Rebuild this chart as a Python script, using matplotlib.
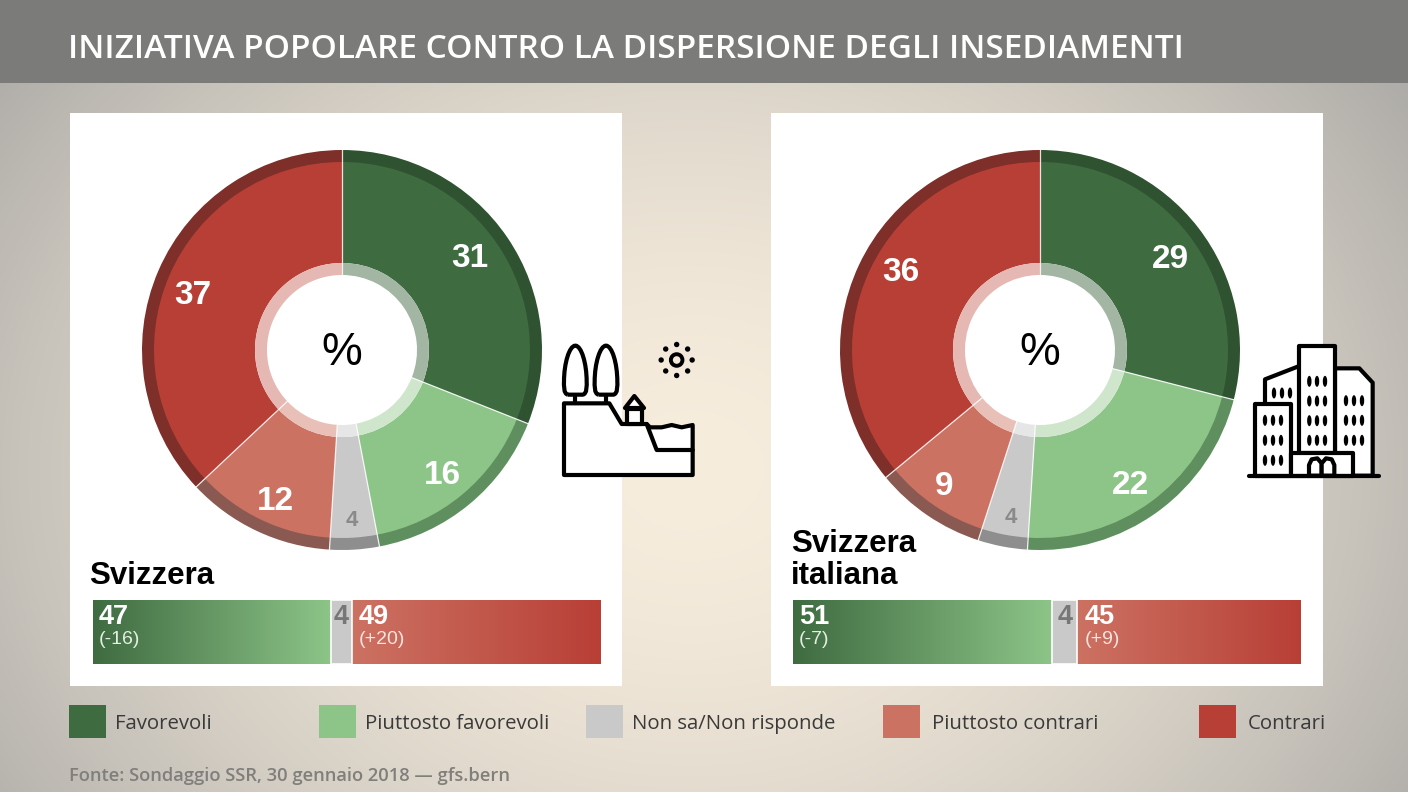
import numpy as np
import matplotlib
matplotlib.use("Agg")
import matplotlib.pyplot as plt
from matplotlib.colors import LinearSegmentedColormap, to_rgb
from matplotlib.patches import Rectangle, PathPatch, Circle, Ellipse
from matplotlib.path import Path

W, H = 1408, 792
TITLE = "INIZIATIVA POPOLARE CONTRO LA DISPERSIONE DEGLI INSEDIAMENTI"
SOURCE = "Fonte: Sondaggio SSR, 30 gennaio 2018 — gfs.bern"
CATEGORIES = ["Favorevoli", "Piuttosto favorevoli", "Non sa/Non risponde", "Piuttosto contrari", "Contrari"]
SVIZZERA = [31, 16, 4, 12, 37]
TICINO = [29, 22, 4, 9, 36]
SVIZZERA_BAR = [47, 4, 49]
TICINO_BAR = [51, 5, 44]
SVIZZERA_BAR_LABELS = ["47", "4", "49"]
TICINO_BAR_LABELS = ["51", "4", "45"]
SVIZZERA_DELTA = ["(-16)", "(+20)"]
TICINO_DELTA = ["(-7)", "(+9)"]

MAIN = ["#3f6b41", "#8dc588", "#c9c9c9", "#cc7263", "#b83f36"]
RIM = ["#2f5230", "#5f8f5f", "#8e8e8e", "#8a5a52", "#7e2f2a"]
INNER = ["#a3b5a3", "#cfe6cc", "#e6e6e6", "#e9c0b8", "#e6b8b3"]
SANS = "Liberation Sans"
UI = "Open Sans"

# label nudges in pixels (right, down) relative to the wedge's middle
NUDGE_L = [(-5, -2), (-2, 2), (-1, 3), (2, 7), (-2, 9)]
NUDGE_R = [(4, 8), (-4, 6), (2, 2), (-6, 4), (6, -9)]

fig = plt.figure(figsize=(W / 100, H / 100), dpi=100)
bg = fig.add_axes([0, 0, 1, 1], zorder=0)
bg.set_xlim(0, W); bg.set_ylim(H, 0); bg.axis("off")

# background radial gradient
yy, xx = np.mgrid[0:H, 0:W]
d = np.sqrt(((xx - 690) / 860) ** 2 + ((yy - 470) / 700) ** 2)
t = np.clip(d, 0, 1) ** 1.7
c0, c1 = np.array(to_rgb("#f7eddd")), np.array(to_rgb("#aeaca8"))
img = c0 + (c1 - c0) * t[..., None]
bg.imshow(img, extent=(0, W, H, 0), aspect="auto", zorder=0, interpolation="bilinear")
bg.set_xlim(0, W); bg.set_ylim(H, 0)

# header
bg.add_patch(Rectangle((0, 0), W, 83, color="#7b7b79", lw=0, zorder=1))
bg.text(68, 58, TITLE, color="white", fontsize=24.05, fontfamily="Open Sans", fontweight="semibold",
        va="baseline", ha="left", zorder=5)

# panels
for x0 in (70, 771):
    bg.add_patch(Rectangle((x0, 113), 552, 573, color="white", lw=0, zorder=1))


def px_axes(x0, y0, x1, y1, z=3):
    return fig.add_axes([x0 / W, 1 - y1 / H, (x1 - x0) / W, (y1 - y0) / H], zorder=z)


def donut(cx, cy, values, nudge):
    R = 200
    ax = px_axes(cx - R - 2, cy - R - 2, cx + R + 2, cy + R + 2)
    kw = dict(startangle=90, counterclock=False, normalize=True)
    ax.pie(values, radius=R, colors=RIM, wedgeprops=dict(width=13, lw=0), **kw)
    ax.pie(values, radius=188, colors=MAIN, wedgeprops=dict(width=101, lw=0), **kw)
    ax.pie(values, radius=87, colors=INNER, wedgeprops=dict(width=12, lw=0), **kw)
    ax.set_xlim(-R - 2, R + 2); ax.set_ylim(-R - 2, R + 2)
    ax.set_aspect("equal"); ax.axis("off")
    cum = np.cumsum(values)
    for c in cum:
        a = np.deg2rad(c * 3.6)
        ax.plot([75 * np.sin(a), R * np.sin(a)], [75 * np.cos(a), R * np.cos(a)], color="white", lw=0.9, alpha=0.85)
    for i, v in enumerate(values):
        a = np.deg2rad((cum[i] - v / 2) * 3.6)
        r = 168 if i == 2 else 160
        gray = i == 2
        ax.text(r * np.sin(a) + nudge[i][0], r * np.cos(a) - nudge[i][1], str(v), ha="center", va="center",
                family=SANS, fontweight="bold", fontsize=16 if gray else 24,
                color="#8a8a8a" if gray else "white")
    ax.text(0, -3, "%", ha="center", va="center", family=SANS, fontsize=33, color="black")


donut(342, 350, SVIZZERA, NUDGE_L)
donut(1040, 350, TICINO, NUDGE_R)


def stacked(x0, x1, y0, y1, values, labels, deltas):
    ax = px_axes(x0, y0, x1, y1)
    grad = np.linspace(0, 1, 256)[None, :]
    gcm = LinearSegmentedColormap.from_list("g", [MAIN[0], MAIN[1]])
    rcm = LinearSegmentedColormap.from_list("r", [MAIN[3], MAIN[4]])
    a, b, c = values
    ax.imshow(grad, cmap=gcm, extent=(0, a, 0, 1), aspect="auto")
    ax.barh(0.5, b, left=a, height=1, color=MAIN[2], edgecolor="white", lw=1.2)
    ax.imshow(grad, cmap=rcm, extent=(a + b, a + b + c, 0, 1), aspect="auto")
    ax.set_xlim(0, sum(values)); ax.set_ylim(0, 1); ax.axis("off")
    pad = 1.2
    ax.text(pad, 0.73, labels[0], color="white", fontsize=19.5, fontweight="bold", family=SANS, va="center")
    ax.text(pad, 0.39, deltas[0], color="#e4efe2", fontsize=14, family=SANS, va="center")
    ax.text(a + b / 2, 0.73, labels[1], color="#777777", fontsize=19.5, fontweight="bold", family=SANS,
            va="center", ha="center")
    ax.text(a + b + pad * 1.2, 0.73, labels[2], color="white", fontsize=19.5, fontweight="bold", family=SANS, va="center")
    ax.text(a + b + pad * 1.2, 0.39, deltas[1], color="#f6e3df", fontsize=14, family=SANS, va="center")


stacked(93, 600, 600, 664, SVIZZERA_BAR, SVIZZERA_BAR_LABELS, SVIZZERA_DELTA)
stacked(793, 1301, 600, 664, TICINO_BAR, TICINO_BAR_LABELS, TICINO_DELTA)

for x, y, s in [(89.5, 584, "Svizzera"), (791, 552, "Svizzera"), (791, 584, "italiana")]:
    bg.text(x, y, s, fontsize=22.5, fontweight="bold", family=SANS, va="baseline", color="black", zorder=5)

# legend
for x, tx, name, col in zip([69, 319, 586, 883, 1199], [115, 365, 632, 932, 1248], CATEGORIES, MAIN):
    bg.add_patch(Rectangle((x, 705), 37, 33, color=col, lw=0, zorder=2))
    bg.text(tx, 729, name, fontsize=14.7, family=UI, va="baseline", color="#3a3a3a", zorder=5)
bg.text(69, 781, SOURCE, fontsize=13.2, family=UI, fontweight="semibold", va="baseline", color="#807f7b", zorder=5)

# icons: drawn on an overlay in pixel coordinates
ov = fig.add_axes([0, 0, 1, 1], zorder=6)
ov.set_xlim(0, W); ov.set_ylim(H, 0); ov.axis("off"); ov.patch.set_alpha(0)
LW = 3.0


def poly(ox, oy, pts, fc="white", lw=LW, closed=True, z=7):
    P = [(ox + x / 3, oy + y / 3) for x, y in pts]
    if closed:
        ov.fill(*zip(*P), facecolor=fc, edgecolor="black", lw=lw, joinstyle="round", zorder=z)
    else:
        ov.plot(*zip(*P), color="black", lw=lw, solid_capstyle="round", solid_joinstyle="round", zorder=z)


# landscape
L = (540, 320)
ox, oy = L
poly(*L, [(72, 250), (208, 250), (245, 312), (320, 312), (330, 322), (365, 322), (395, 315), (425, 322), (458, 315),
          (458, 465), (72, 465)])
poly(*L, [(320, 312), (350, 390), (458, 390)], closed=False)
for cx in (106, 198):
    poly(*L, [(cx, 222), (cx, 250)], closed=False)
    ctrl = [(cx - 22, 224), (cx - 36, 222), (cx - 34, 195), (cx - 34, 185), (cx - 34, 130), (cx - 18, 77), (cx, 77),
            (cx + 18, 77), (cx + 34, 130), (cx + 34, 185), (cx + 34, 195), (cx + 36, 222), (cx + 22, 224),
            (cx - 22, 224)]
    codes = [Path.MOVETO] + [Path.CURVE4] * 12 + [Path.LINETO]
    verts = [(ox + x / 3, oy + y / 3) for x, y in ctrl]
    ov.add_patch(PathPatch(Path(verts, codes), fc="white", ec="black", lw=LW, zorder=7, joinstyle="round"))
poly(*L, [(262, 312), (262, 268), (305, 268), (305, 312)], z=8)
poly(*L, [(255, 264), (283, 228), (312, 264)], z=8)
# sun
ov.add_patch(Circle((ox + 410 / 3, oy + 120 / 3), 5.8, fc="none", ec="black", lw=2.8, zorder=8))
for k in range(8):
    a = k * np.pi / 4
    ov.add_patch(Circle((ox + 410 / 3 + 15.5 * np.cos(a), oy + 120 / 3 + 15.5 * np.sin(a)), 2.7, color="black", lw=0, zorder=8))

# city
C = (1230, 330)
ox, oy = C
poly(*C, [(105, 148), (208, 108), (208, 370), (105, 370)])
poly(*C, [(315, 115), (388, 115), (428, 158), (428, 437), (315, 437)])
poly(*C, [(208, 48), (315, 48), (315, 370), (208, 370)])
poly(*C, [(76, 222), (184, 222), (184, 437), (76, 437)])
poly(*C, [(184, 368), (368, 368), (368, 437), (184, 437)])
poly(*C, [(237, 437), (237, 405), (245, 388), (262, 385), (275, 400), (275, 437)])
poly(*C, [(275, 437), (275, 400), (288, 385), (305, 388), (313, 405), (313, 437)])
poly(*C, [(56, 439), (448, 439)], closed=False)


def windows(xs, ys):
    for x in xs:
        for y in ys:
            ov.add_patch(Ellipse((ox + x / 3, oy + y / 3), 4.4, 11, color="black", lw=0, zorder=9))


windows([238, 261, 285], [154, 213, 272, 331])
windows([132, 156, 180], [189])
windows([105, 129, 153], [271, 331, 391])
windows([348, 372, 396], [212, 271, 331])

fig.savefig("out.png", dpi=100)
